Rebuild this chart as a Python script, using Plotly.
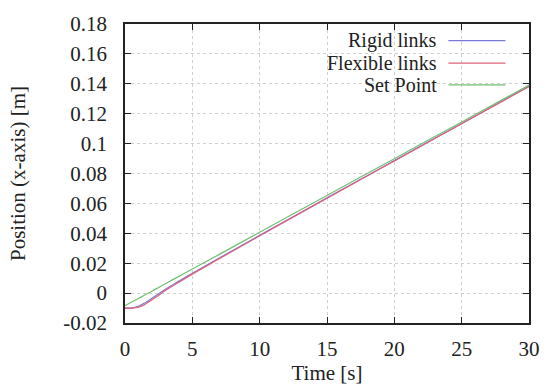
import plotly.graph_objects as go

# Data
t = [0, 0.5, 1.0, 1.5, 2.0, 2.5, 3.0, 4.0, 5.0, 7.0, 10.0, 15.0, 20.0, 25.0, 30.0]
set_point = [-0.0085, -0.0060, -0.0036, -0.0011, 0.0013, 0.0038, 0.0063, 0.0112, 0.0161, 0.0259, 0.0407, 0.0653, 0.0899, 0.1145, 0.1391]
rigid = [-0.0100, -0.0099, -0.0088, -0.0064, -0.0035, -0.0005, 0.0026, 0.0080, 0.0133, 0.0235, 0.0386, 0.0637, 0.0886, 0.1135, 0.1384]
flexible = [-0.0100, -0.0100, -0.0094, -0.0074, -0.0045, -0.0014, 0.0017, 0.0073, 0.0127, 0.0230, 0.0383, 0.0635, 0.0884, 0.1133, 0.1382]

names = ["Rigid links", "Flexible links", "Set Point"]
colors = ["#7878d8", "#e0607a", "#70c070"]
series = [rigid, flexible, set_point]

x_ticks = [0, 5, 10, 15, 20, 25, 30]
y_ticks = [-0.02, 0, 0.02, 0.04, 0.06, 0.08, 0.1, 0.12, 0.14, 0.16, 0.18]
y_labels = ["-0.02", "0", "0.02", "0.04", "0.06", "0.08", "0.1", "0.12", "0.14", "0.16", "0.18"]

FONT = "Times New Roman, Times, Liberation Serif, DejaVu Serif, serif"
FS = 21

fig = go.Figure()
for name, col, ys in zip(names, colors, series):
    fig.add_trace(go.Scatter(x=t, y=ys, mode="lines", name=name, line_shape="spline",
                             line=dict(color=col, width=1.2), showlegend=False))

# custom gnuplot-style legend (text right, sample line to the right)
legend_y = [35, 58, 80]
for name, col, py in zip(names, colors, legend_y):
    yp = 1 - (py - 18) / (323 - 18)
    fig.add_annotation(xref="paper", yref="paper", x=(444 - 125) / (536 - 125), y=yp,
                       text=name, showarrow=False, xanchor="right", yanchor="middle",
                       font=dict(family=FONT, size=20, color="#222"))
    fig.add_shape(type="line", xref="paper", yref="paper",
                  x0=(454 - 125) / (536 - 125), x1=(512 - 125) / (536 - 125),
                  y0=yp, y1=yp, line=dict(color=col, width=1.2))

axis_common = dict(showline=True, linecolor="#222", linewidth=1.5, mirror="ticks",
                   ticks="inside", ticklen=6, tickcolor="#222",
                   showgrid=True, gridcolor="#cfcfcf", griddash="3px,3px", gridwidth=1,
                   zeroline=False, tickfont=dict(family=FONT, size=FS, color="#222"))

fig.update_xaxes(range=[0, 30], tickvals=x_ticks, ticklabelstandoff=6,
                 title=dict(text="Time [s]", font=dict(family=FONT, size=FS, color="#222"), standoff=4),
                 **axis_common)
fig.update_yaxes(range=[-0.02, 0.18], tickvals=y_ticks, ticktext=y_labels, ticklabelstandoff=12,
                 title=dict(text="Position (x-axis) [m]", font=dict(family=FONT, size=FS, color="#222"), standoff=32),
                 **axis_common)

fig.update_layout(width=552, height=392, margin=dict(l=125, r=16, t=18, b=69),
                  paper_bgcolor="white", plot_bgcolor="white",
                  font=dict(family=FONT, size=FS, color="#222"))

fig.write_html("out.html")
